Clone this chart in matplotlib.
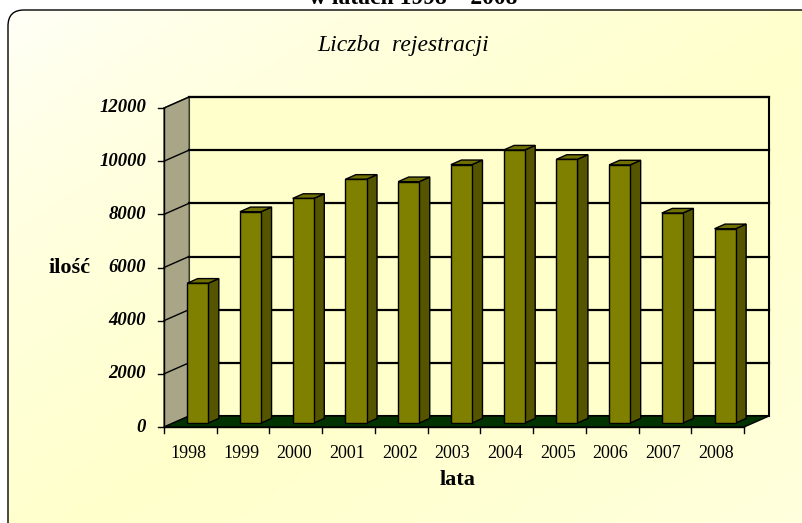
import numpy as np
import matplotlib
matplotlib.use('Agg')
import matplotlib.pyplot as plt
from matplotlib.patches import Polygon, FancyBboxPatch

# dane
lata = ['1998', '1999', '2000', '2001', '2002', '2003', '2004', '2005', '2006', '2007', '2008']
rejestracje = [5260, 7950, 8450, 9170, 9080, 9720, 10270, 9920, 9710, 7900, 7310]
yticks = [0, 2000, 4000, 6000, 8000, 10000, 12000]

W, H = 803, 523
fig = plt.figure(figsize=(W / 100, H / 100), dpi=100)

# tlo z gradientem i zaokraglona ramka
bg = fig.add_axes([0, 0, 1, 1])
bg.set_xlim(0, W)
bg.set_ylim(H, 0)
bg.axis('off')
xx, yy = np.meshgrid(np.linspace(0, 1, 200), np.linspace(0, 1, 140))
t = (xx + yy) / 2
k = np.clip(1 - np.abs(t - 0.55) / 0.55, 0, 1) ** 0.6
k = np.where(t > 0.55, 0.45 + 0.55 * k, k)
white = np.array([1, 1, 1])
yellow = np.array([1, 1, 0.80])
img = white[None, None, :] * (1 - k[..., None]) + yellow[None, None, :] * k[..., None]
im = bg.imshow(img, extent=[0, W, H, 0], aspect='auto', zorder=0)
frame = FancyBboxPatch((8, 10), W + 20, H + 20, boxstyle='round,pad=0,rounding_size=16',
                       fc='none', ec='black', lw=1.0, zorder=1)
bg.add_patch(frame)
im.set_clip_path(frame)

# os wykresu: x = kategorie, y = wartosci (plaszczyzna przednia)
SX = 52.73          # px na kategorie
SV = 319 / 12000    # px na jednostke
X0, Y0 = 164, 427


def px2x(px):
    return -0.5 + (px - X0) / SX


def py2v(py):
    return (Y0 - py) / SV


DX = 25 / SX   # glebokosc w jednostkach x
DV = 11 / SV   # glebokosc w jednostkach y

ax = fig.add_axes([0, 0, 1, 1])
ax.set_xlim(px2x(0), px2x(W))
ax.set_ylim(py2v(H), py2v(0))
ax.axis('off')
ax.patch.set_alpha(0)

n = len(lata)
xl, xr = -0.5, n - 0.5
vmax = yticks[-1]

# sciana tylna
ax.add_patch(Polygon([(xl + DX, DV), (xr + DX, DV), (xr + DX, vmax + DV), (xl + DX, vmax + DV)],
                     closed=True, fc='#ffffcc', ec='black', lw=1.5, zorder=2))
# sciana boczna
ax.add_patch(Polygon([(xl, 0), (xl + DX, DV), (xl + DX, vmax + DV), (xl, vmax)],
                     closed=True, fc='#a8a686', ec='#555544', lw=1.0, zorder=2))
# podloga
ax.add_patch(Polygon([(xl, 0), (xr, 0), (xr + DX, DV), (xl + DX, DV)],
                     closed=True, fc='#003300', ec='black', lw=1.0, zorder=3))

# linie siatki
for v in yticks[1:]:
    ax.plot([xl + DX, xr + DX], [v + DV, v + DV], color='black', lw=1.6, zorder=3)
    ax.plot([xl, xl + DX], [v, v + DV], color='black', lw=1.0, zorder=3)

# slupki 3D
d0, d1 = 0.36, 0.78
bw = 0.40
xs = np.arange(n)
fx = xs - 0.03 + d0 * DX
ax.bar(fx, rejestracje, width=bw, bottom=d0 * DV, color='#808000',
       edgecolor='black', lw=1.0, zorder=5)
dd = d1 - d0
for x, v in zip(fx, rejestracje):
    r = x + bw / 2
    l = x - bw / 2
    top = v + d0 * DV
    ax.add_patch(Polygon([(r, d0 * DV), (r + dd * DX, d0 * DV + dd * DV),
                          (r + dd * DX, top + dd * DV), (r, top)],
                         closed=True, fc='#555500', ec='black', lw=1.0, zorder=4))
    ax.add_patch(Polygon([(l, top), (r, top), (r + dd * DX, top + dd * DV), (l + dd * DX, top + dd * DV)],
                         closed=True, fc='#707000', ec='black', lw=1.0, zorder=4))

# osie przednie
tick_x = 6 / SX
tick_v = 6 / SV
ax.plot([xl, xl], [0, vmax], color='black', lw=1.0, zorder=6)
ax.plot([xl, xr], [0, 0], color='black', lw=1.0, zorder=6)
for v in yticks:
    ax.plot([xl - tick_x, xl], [v, v], color='black', lw=1.0, zorder=6)
    ax.text(px2x(146), v, str(v), ha='right', va='center', family='Liberation Serif',
            fontsize=13.5, fontweight='bold', fontstyle='italic', zorder=6)
for i in range(n + 1):
    ax.plot([i - 0.5, i - 0.5], [0, -tick_v], color='black', lw=1.0, zorder=6)
for i, lab in enumerate(lata):
    ax.text(i - 0.03, py2v(454), lab, ha='center', va='center', family='Liberation Serif',
            fontsize=13, zorder=6)

# opisy
ax.text(px2x(458), py2v(480), 'lata', ha='center', va='center', family='Liberation Serif',
        fontsize=16, fontweight='bold', zorder=6)
ax.text(px2x(70), py2v(268), 'ilość', ha='center', va='center', family='Liberation Serif',
        fontsize=16, fontweight='bold', zorder=6)
ax.text(px2x(403), py2v(45), 'Liczba  rejestracji', ha='center', va='center',
        family='Liberation Serif', fontsize=17, fontstyle='italic', zorder=6)
ax.text(px2x(413), py2v(3.5), 'w latach 1998 – 2008', ha='center', va='baseline',
        family='Liberation Serif', fontsize=17, fontweight='bold', zorder=6)

fig.savefig('out.png', dpi=100)
